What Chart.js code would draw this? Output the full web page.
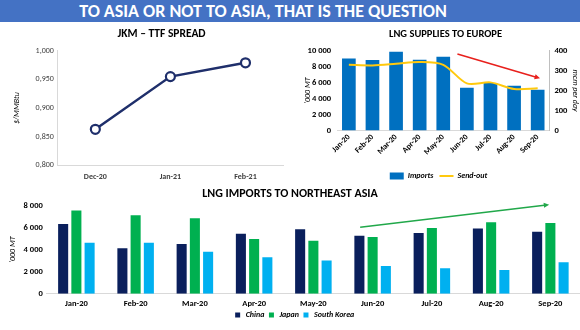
<!DOCTYPE html>
<html><head><meta charset="utf-8">
<script src="https://cdn.jsdelivr.net/npm/chart.js@4.4.1/dist/chart.umd.min.js"></script>
<style>
html,body{margin:0;padding:0;background:#fff;width:580px;height:330px;overflow:hidden;font-family:Carlito,Lato,sans-serif}
#banner{position:absolute;left:0;top:0;width:580px;height:22px;background:#4472C4;color:#fff;font-weight:bold;font-size:18px;line-height:22px;text-align:center;text-indent:-54px}
.c{position:absolute}
</style></head><body>
<div id="banner">TO ASIA OR NOT TO ASIA, THAT IS THE QUESTION</div>
<div class="c" style="left:0;top:185px;width:580px;height:145px"><canvas id="c3"></canvas></div>
<div class="c" style="left:0;top:22px;width:290px;height:167px"><canvas id="c1"></canvas></div>
<div class="c" style="left:290px;top:22px;width:290px;height:170px"><canvas id="c2"></canvas></div>
<script>
// ---- data ----
const spreadMonths = ['Dec-20','Jan-21','Feb-21'];
const spreadValues = [0.863, 0.955, 0.979];

const europeMonths = ['Jan-20','Feb-20','Mar-20','Apr-20','May-20','Jun-20','Jul-20','Aug-20','Sep-20'];
const europeImports = [9000, 8820, 9870, 8860, 9240, 5360, 5950, 5610, 5100];
const europeSendout = [329, 326, 334, 343, 329, 236, 241, 208, 211];
const europeTrend = {from:[4.6, 9570], to:[8.1, 6530]};

const asiaMonths = ['Jan-20','Feb-20','Mar-20','Apr-20','May-20','Jun-20','Jul-20','Aug-20','Sep-20'];
const asiaChina = [6320, 4130, 4500, 5440, 5840, 5260, 5500, 5900, 5620];
const asiaJapan = [7540, 7110, 6840, 4950, 4800, 5140, 5960, 6470, 6410];
const asiaKorea = [4620, 4620, 3800, 3310, 3010, 2520, 2310, 2160, 2860];
const asiaTrend = {from:[4.79, 6020], to:[7.98, 8070]};

// ---- helpers ----
const FF = 'Carlito, Lato, sans-serif';
Chart.defaults.font.family = FF;
Chart.defaults.color = '#404040';
const sp = v => String(v).replace(/\B(?=(\d{3})+(?!\d))/g, ' ');

const arrowPlugin = {
  id: 'trendArrow',
  afterDatasetsDraw(chart, args, opts) {
    if (!opts || !opts.arrow) return;
    const a = opts.arrow, xs = chart.scales.x, ys = chart.scales[opts.axis || 'y'];
    const x0 = xs.getPixelForValue(a.from[0]), y0 = ys.getPixelForValue(a.from[1]);
    const x1 = xs.getPixelForValue(a.to[0]), y1 = ys.getPixelForValue(a.to[1]);
    const ctx = chart.ctx;
    ctx.save();
    ctx.strokeStyle = opts.color; ctx.fillStyle = opts.color; ctx.lineWidth = 1.6;
    const ang = Math.atan2(y1 - y0, x1 - x0), h = 6;
    ctx.beginPath(); ctx.moveTo(x0, y0);
    ctx.lineTo(x1 - Math.cos(ang) * h * 0.8, y1 - Math.sin(ang) * h * 0.8); ctx.stroke();
    ctx.beginPath(); ctx.moveTo(x1, y1);
    ctx.lineTo(x1 - h * Math.cos(ang - 0.45), y1 - h * Math.sin(ang - 0.45));
    ctx.lineTo(x1 - h * Math.cos(ang + 0.45), y1 - h * Math.sin(ang + 0.45));
    ctx.closePath(); ctx.fill();
    ctx.restore();
  }
};
const shiftPlugin = {
  id: 'boxShift',
  afterLayout(chart, args, opts) {
    if (opts && opts.titleDx && chart.titleBlock) { chart.titleBlock.left += opts.titleDx; chart.titleBlock.right += opts.titleDx; }
    if (opts && opts.legendDx && chart.legend) { chart.legend.left += opts.legendDx; chart.legend.right += opts.legendDx; }
  }
};
Chart.register(arrowPlugin, shiftPlugin);

const noGrid = {display:false, drawTicks:false};
const titleOpt = (t, pad, size) => ({display:true, text:t, color:'#000', font:{size:size, weight:'bold'}, padding:pad});
const axisTitle = (t, pb) => ({display:true, text:t, color:'#000', font:{size:8, style:'italic'}, padding:{top:0,bottom:pb}});

// ---- chart 1 ----
new Chart(document.getElementById('c1'), {
  type:'line',
  data:{labels:spreadMonths, datasets:[{data:spreadValues, borderColor:'#1F2F6B', borderWidth:2.5,
    pointBackgroundColor:'#fff', pointBorderColor:'#1F2F6B', pointBorderWidth:2.2, pointRadius:4.5, tension:0}]},
  options:{responsive:true, maintainAspectRatio:false, animation:false,
    layout:{padding:{left:12, right:7, top:3, bottom:0}},
    plugins:{legend:{display:false}, tooltip:{enabled:false}, title:titleOpt('JKM – TTF SPREAD', {top:2,bottom:10}, 11.5),
      boxShift:{titleDx:14}},
    scales:{
      x:{offset:true, grid:noGrid, border:{color:'#d9d9d9'}, ticks:{font:{size:8, weight:'bold'}, color:'#404040', padding:7}},
      y:{min:0.8, max:1.0, grid:noGrid, border:{color:'#d9d9d9'},
        ticks:{stepSize:0.05, font:{size:8}, color:'#404040', padding:4, callback:v => v.toFixed(3).replace('.', ',')},
        title:axisTitle('$/MMBtu', 10)}
    }}
});

// ---- chart 2 ----
new Chart(document.getElementById('c2'), {
  data:{labels:europeMonths, datasets:[
    {type:'line', label:'Send-out', data:europeSendout, yAxisID:'y1', borderColor:'#FFC90E', borderWidth:2,
      pointRadius:0, pointStyle:'line', tension:0.3, order:0},
    {type:'bar', label:'Imports', data:europeImports, yAxisID:'y', backgroundColor:'#0070C0', pointStyle:'rect',
      categoryPercentage:1, barPercentage:0.58, order:1}
  ]},
  options:{responsive:true, maintainAspectRatio:false, animation:false,
    layout:{padding:{left:13, right:0, top:3, bottom:2}},
    plugins:{tooltip:{enabled:false}, title:titleOpt('LNG SUPPLIES TO EUROPE', {top:3,bottom:10}, 10.5),
      legend:{position:'bottom', reverse:true, labels:{usePointStyle:true, pointStyleWidth:14, boxHeight:7,
        color:'#000', font:{size:8, style:'italic', weight:'bold'}, padding:6}},
      trendArrow:{arrow:europeTrend, color:'#E8201C', axis:'y'},
      boxShift:{titleDx:4, legendDx:-3}},
    scales:{
      x:{grid:noGrid, border:{color:'#d9d9d9'}, afterFit:s => { s.height += 7; },
        ticks:{font:{size:8, weight:'bold'}, color:'#000', maxRotation:45, minRotation:45, padding:2}},
      y:{min:0, max:10000, grid:noGrid, border:{display:false}, afterFit:s => { s.width -= 13; },
        ticks:{stepSize:2000, font:{size:8.5, weight:'bold'}, color:'#000', padding:6, callback:v => sp(v)},
        title:axisTitle("'000 MT", 2)},
      y1:{position:'right', min:0, max:400, grid:noGrid, border:{color:'#bfbfbf'}, afterFit:s => { s.width -= 4; },
        ticks:{stepSize:100, font:{size:8.5, weight:'bold'}, color:'#000', padding:5},
        title:axisTitle('mcm per day', 2)}
    }}
});

// ---- chart 3 ----
new Chart(document.getElementById('c3'), {
  type:'bar',
  data:{labels:asiaMonths, datasets:[
    {label:'China', data:asiaChina, backgroundColor:'#0A1F5C'},
    {label:'Japan', data:asiaJapan, backgroundColor:'#00B050'},
    {label:'South Korea', data:asiaKorea, backgroundColor:'#00B0F0'}
  ]},
  options:{responsive:true, maintainAspectRatio:false, animation:false,
    datasets:{bar:{categoryPercentage:0.67, barPercentage:0.76}},
    layout:{padding:{left:8, right:0, top:0, bottom:1}},
    plugins:{tooltip:{enabled:false}, title:titleOpt('LNG IMPORTS TO NORTHEAST ASIA', {top:2,bottom:4}, 12),
      legend:{position:'bottom', labels:{usePointStyle:true, pointStyle:'rect', boxHeight:5,
        color:'#000', font:{size:8, style:'italic', weight:'bold'}, padding:3}},
      trendArrow:{arrow:asiaTrend, color:'#21A84A', axis:'y'},
      boxShift:{titleDx:-4}},
    scales:{
      x:{grid:noGrid, border:{color:'#d9d9d9'}, afterFit:s => { s.height -= 6; },
        ticks:{font:{size:8.5, weight:'bold'}, color:'#000', padding:5}},
      y:{min:0, max:8000, grid:noGrid, border:{display:false},
        ticks:{stepSize:2000, font:{size:8.5, weight:'bold'}, color:'#000', padding:4, callback:v => sp(v)},
        title:axisTitle("'000 MT", 2)}
    }}
});
</script>
</body></html>
